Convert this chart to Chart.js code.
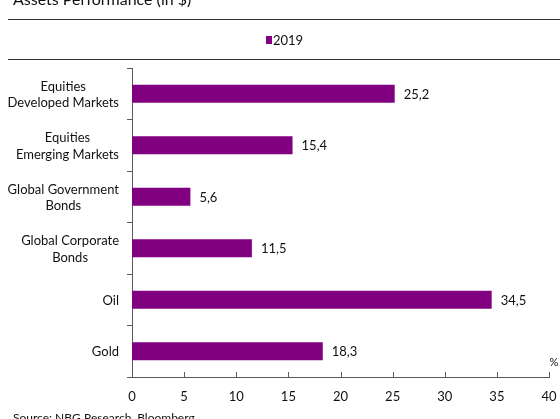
<!DOCTYPE html>
<html>
<head>
<meta charset="utf-8">
<script src="https://cdn.jsdelivr.net/npm/chart.js@4"></script>
<style>
  html, body { margin: 0; padding: 0; background: #fff; }
  #wrap { width: 560px; height: 419px; position: relative; }
</style>
</head>
<body>
<div id="wrap"><canvas id="assetsChart" width="560" height="419"></canvas></div>
<script>
'use strict';

// Assets performance, 2019 (%)
var assetLabels = [
    ['Equities', 'Developed Markets'],
    ['Equities', 'Emerging Markets'],
    ['Global Government', 'Bonds'],
    ['Global Corporate', 'Bonds'],
    ['Oil'],
    ['Gold']
];
var returns2019 = [25.2, 15.4, 5.6, 11.5, 34.5, 18.3];
var xTicks = [0, 5, 10, 15, 20, 25, 30, 35, 40];

var FONT = 'Lato, "Open Sans", sans-serif';
var PURPLE = '#800080';
var AXIS = '#5a5a5a';
var TEXT = '#111';

// title, rules, legend, category labels, value labels, inward x ticks
var decorations = {
    id: 'decorations',
    afterDraw: function (chart) {
        var ctx = chart.ctx;
        var xs = chart.scales.x;
        var ys = chart.scales.y;
        var meta = chart.getDatasetMeta(0);
        ctx.save();

        // title (sits partly above the top edge)
        ctx.fillStyle = TEXT;
        ctx.font = '16px ' + FONT;
        ctx.textAlign = 'left';
        ctx.textBaseline = 'alphabetic';
        ctx.fillText('Assets Performance (in $)', 13, 5);

        // rules
        ctx.strokeStyle = '#333';
        ctx.lineWidth = 1;
        ctx.beginPath();
        ctx.moveTo(8, 19.5); ctx.lineTo(560, 19.5);
        ctx.moveTo(8, 59.5); ctx.lineTo(560, 59.5);
        ctx.stroke();

        // legend
        ctx.fillStyle = PURPLE;
        ctx.fillRect(266, 36, 6, 8);
        ctx.fillStyle = TEXT;
        ctx.font = '13px ' + FONT;
        ctx.textBaseline = 'middle';
        ctx.fillText('2019', 273, 40.5);

        // category labels: each block right-edged, lines centred within it
        ctx.font = '13px ' + FONT;
        ctx.textAlign = 'center';
        assetLabels.forEach(function (lines, i) {
            var w = 0;
            lines.forEach(function (l) { w = Math.max(w, ctx.measureText(l).width); });
            var cx = 119 - w / 2;
            var cy = ys.getPixelForValue(i);
            var lh = 16.5;
            lines.forEach(function (l, k) {
                ctx.fillText(l, cx, cy + 1 + (k - (lines.length - 1) / 2) * lh);
            });
        });

        // value labels
        ctx.textAlign = 'left';
        meta.data.forEach(function (bar, i) {
            var txt = returns2019[i].toFixed(1).replace('.', ',');
            ctx.fillText(txt, bar.x + 9, bar.y + 1);
        });

        // x ticks pointing into the plot
        ctx.strokeStyle = AXIS;
        ctx.beginPath();
        xTicks.forEach(function (v) {
            var px = Math.round(xs.getPixelForValue(v)) + 0.5;
            ctx.moveTo(px, chart.chartArea.bottom);
            ctx.lineTo(px, chart.chartArea.bottom - 5);
        });
        ctx.stroke();

        // unit
        ctx.font = '11px ' + FONT;
        ctx.textAlign = 'center';
        ctx.fillText('%', 554, 362);

        // source (cut by the bottom edge)
        ctx.font = '12px ' + FONT;
        ctx.textAlign = 'left';
        ctx.textBaseline = 'alphabetic';
        ctx.fillText('Source: NBG Research, Bloomberg', 13, 422);

        ctx.restore();
    }
};

var ctx = document.getElementById('assetsChart').getContext('2d');
var chart = new Chart(ctx, {
    type: 'bar',
    data: {
        labels: assetLabels,
        datasets: [{
            label: '2019',
            data: returns2019,
            backgroundColor: PURPLE,
            borderWidth: 0,
            categoryPercentage: 0.7,
            barPercentage: 0.5
        }]
    },
    options: {
        indexAxis: 'y',
        responsive: false,
        animation: false,
        devicePixelRatio: 1,
        layout: { padding: { top: 68, right: 11, left: 0, bottom: 0 } },
        plugins: {
            legend: { display: false },
            title: { display: false },
            tooltip: { enabled: false }
        },
        scales: {
            x: {
                min: 0,
                max: 40,
                afterBuildTicks: function (scale) {
                    scale.ticks = xTicks.map(function (v) { return { value: v }; });
                },
                afterFit: function (scale) {
                    scale.height = 42;
                    scale.paddingLeft = 0;
                    scale.paddingRight = 0;
                },
                grid: { display: false, drawTicks: false },
                border: { display: true, color: AXIS, width: 1 },
                ticks: {
                    color: TEXT,
                    padding: 12,
                    maxRotation: 0,
                    font: { family: FONT, size: 13 }
                }
            },
            y: {
                afterFit: function (scale) { scale.width = 132; },
                grid: {
                    offset: true,
                    drawOnChartArea: false,
                    drawTicks: true,
                    tickLength: 5,
                    color: AXIS
                },
                border: { display: true, color: AXIS, width: 1 },
                ticks: { display: false }
            }
        }
    },
    plugins: [decorations]
});
</script>
</body>
</html>
